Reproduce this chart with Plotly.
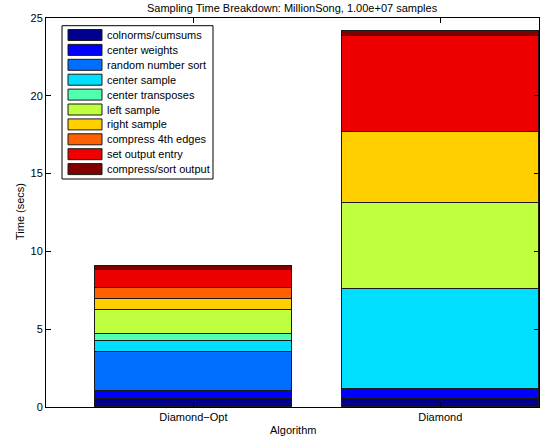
import plotly.graph_objects as go

# Sampling phases, bottom of the stack first
phases = [
    "colnorms/cumsums",
    "center weights",
    "random number sort",
    "center sample",
    "center transposes",
    "left sample",
    "right sample",
    "compress 4th edges",
    "set output entry",
    "compress/sort output",
]
colors = [
    "#00008F", "#0000FF", "#006FFF", "#00DFFF", "#50FFAF",
    "#BFFF40", "#FFCF00", "#FF6000", "#EF0000", "#800000",
]
algorithms = ["Diamond\u2212Opt", "Diamond"]

# Time (secs) per phase for each algorithm
diamond_opt = [0.50, 0.55, 2.51, 0.65, 0.45, 1.56, 0.73, 0.68, 1.17, 0.27]
diamond = [0.50, 0.68, 0.00, 6.43, 0.00, 5.51, 4.53, 0.02, 6.19, 0.28]

W, H = 544, 441
ML, MR, MT, MB = 46, 5, 18, 34
PW, PH = W - ML - MR, H - MT - MB
FONT = "Liberation Sans, Arial, Helvetica, sans-serif"
FS = 11


def fx(px):
    return (px - ML) / PW


def fy(py):
    return (H - MB - py) / PH


fig = go.Figure()
for name, col, a, b in zip(phases, colors, diamond_opt, diamond):
    fig.add_trace(go.Bar(
        x=[1, 2], y=[a, b], name=name, width=0.8,
        marker=dict(color=col, line=dict(color="#1a1a1a", width=1)),
        showlegend=False,
    ))

# Legend box drawn in paper space (wide swatches)
shapes = [dict(type="rect", xref="paper", yref="paper",
               x0=fx(62), x1=fx(213), y0=fy(179), y1=fy(25.7),
               line=dict(color="black", width=1), fillcolor="white", layer="above")]
annotations = []
row0, step = 35.0, 14.9
for i, (name, col) in enumerate(zip(phases, colors)):
    cy = row0 + i * step
    shapes.append(dict(type="rect", xref="paper", yref="paper",
                       x0=fx(68), x1=fx(102), y0=fy(cy + 5.5), y1=fy(cy - 5.5),
                       line=dict(color="#1a1a1a", width=1), fillcolor=col, layer="above"))
    annotations.append(dict(text=name, xref="paper", yref="paper",
                            x=fx(104.5), y=fy(cy), xanchor="left", yanchor="middle",
                            showarrow=False, font=dict(size=FS, color="black", family=FONT)))

annotations.append(dict(text="Sampling Time Breakdown: MillionSong, 1.00e+07 samples",
                        xref="paper", yref="paper", x=0.5, y=fy(7.5),
                        xanchor="center", yanchor="middle", showarrow=False,
                        font=dict(size=FS, color="black", family=FONT)))
annotations.append(dict(text="Algorithm", xref="paper", yref="paper", x=0.5, y=fy(430),
                        xanchor="center", yanchor="middle", showarrow=False,
                        font=dict(size=FS, color="black", family=FONT)))
annotations.append(dict(text="Time (secs)", xref="paper", yref="paper", x=fx(20), y=fy(212),
                        xanchor="center", yanchor="middle", showarrow=False, textangle=-90,
                        font=dict(size=FS, color="black", family=FONT)))

fig.update_layout(
    width=W, height=H,
    margin=dict(l=ML, r=MR, t=MT, b=MB, pad=0),
    barmode="stack", bargap=0,
    paper_bgcolor="white", plot_bgcolor="white",
    font=dict(family=FONT, size=FS, color="black"),
    shapes=shapes, annotations=annotations,
    showlegend=False,
    xaxis=dict(range=[0.403, 2.4], tickvals=[1, 2], ticktext=algorithms,
               showline=True, linecolor="black", linewidth=1, mirror="ticks",
               ticks="inside", ticklen=5, tickcolor="black", showgrid=False,
               zeroline=False, fixedrange=True),
    yaxis=dict(range=[0, 25], tickvals=[0, 5, 10, 15, 20, 25],
               showline=True, linecolor="black", linewidth=1, mirror="ticks",
               ticks="inside", ticklen=5, tickcolor="black", showgrid=False,
               zeroline=False, fixedrange=True),
)

fig.write_html("out.html")
